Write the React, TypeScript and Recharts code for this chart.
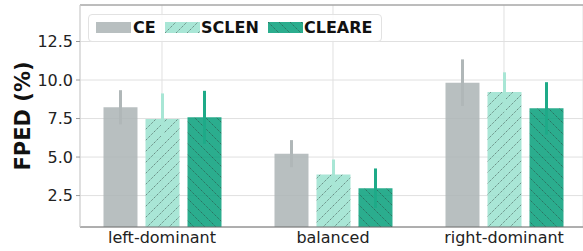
import React from "react";
import { Bar, BarChart, CartesianGrid, ErrorBar, ReferenceLine, XAxis, YAxis } from "recharts";

const categories = ["left-dominant", "balanced", "right-dominant"];
const ceValues = [8.23, 5.22, 9.83];
const ceErrors = [1.11, 0.88, 1.51];
const sclenValues = [7.47, 3.86, 9.22];
const sclenErrors = [1.66, 0.98, 1.28];
const cleareValues = [7.58, 2.98, 8.16];
const cleareErrors = [1.72, 1.28, 1.7];
const yTicks = [2.5, 5, 7.5, 10, 12.5];

const font = "'DejaVu Sans', sans-serif";

const rows = categories.map((name, i) => ({
  x: i,
  name,
  ce: ceValues[i],
  ceErr: ceErrors[i],
  sclen: sclenValues[i],
  sclenErr: sclenErrors[i],
  cleare: cleareValues[i],
  cleareErr: cleareErrors[i],
}));

// base colours drawn at 0.85 opacity so the grid shows through like the original
const colors = {
  ce: "#acb4b5",
  ceErr: "#b0b7b8",
  sclen: "#9ae2cf",
  sclenErr: "#a8e6d5",
  cleare: "#069f7a",
  cleareErr: "#1eaa88",
};
const barAlpha = 0.85;

function HatchPattern({ id, fill, back }: { id: string; fill: string; back?: boolean }) {
  const d = back
    ? "M-1,10 l2,2 M0,0 l11,11 M10,-1 l2,2"
    : "M-1,1 l2,-2 M0,11 l11,-11 M10,12 l2,-2";
  return (
    <pattern id={id} patternUnits="userSpaceOnUse" width={11} height={11}>
      <rect width={11} height={11} fill={fill} fillOpacity={barAlpha} />
      <path d={d} stroke="#2c3a38" strokeWidth={0.8} strokeDasharray="1.2 1" strokeOpacity={0.75} />
    </pattern>
  );
}

function Swatch({ kind }: { kind: "ce" | "sclen" | "cleare" }) {
  const id = `leg-${kind}`;
  return (
    <svg width={35} height={11} style={{ display: "block" }}>
      <defs>
        {kind === "sclen" && <HatchPattern id={id} fill={colors.sclen} />}
        {kind === "cleare" && <HatchPattern id={id} fill={colors.cleare} back />}
      </defs>
      <rect
        width={35}
        height={11}
        fill={kind === "ce" ? colors.ce : `url(#${id})`}
        fillOpacity={kind === "ce" ? barAlpha : 1}
      />
    </svg>
  );
}

function LegendBox() {
  const items: { kind: "ce" | "sclen" | "cleare"; label: string; sw: number; tx: number }[] = [
    { kind: "ce", label: "CE", sw: 7, tx: 44 },
    { kind: "sclen", label: "SCLEN", sw: 76, tx: 112 },
    { kind: "cleare", label: "CLEARE", sw: 179, tx: 215 },
  ];
  return (
    <div
      style={{
        position: "absolute",
        left: 88,
        top: 14,
        width: 292,
        height: 26,
        border: "1px solid #e2e2e2",
        borderRadius: 4,
        background: "rgba(255,255,255,0.85)",
        fontFamily: font,
      }}
    >
      {items.map((it) => (
        <React.Fragment key={it.kind}>
          <div style={{ position: "absolute", left: it.sw, top: 7 }}>
            <Swatch kind={it.kind} />
          </div>
          <div
            style={{
              position: "absolute",
              left: it.tx,
              top: 5,
              lineHeight: "16px",
              fontSize: 16,
              fontWeight: "bold",
              color: "#111",
              whiteSpace: "nowrap",
            }}
          >
            {it.label}
          </div>
        </React.Fragment>
      ))}
    </div>
  );
}

export default function App() {
  return (
    <div
      style={{
        position: "absolute",
        left: 0,
        top: 0,
        width: 583,
        height: 251,
        overflow: "hidden",
        background: "#fff",
      }}
    >
      <BarChart
        width={583}
        height={251}
        data={rows}
        margin={{ top: 5, right: 0, bottom: 0, left: 0 }}
        barSize={34}
        barGap={8}
      >
        <defs>
          <HatchPattern id="hatch-sclen" fill={colors.sclen} />
          <HatchPattern id="hatch-cleare" fill={colors.cleare} back />
        </defs>
        <CartesianGrid stroke="#e0e0e0" strokeWidth={1} />
        <XAxis
          dataKey="x"
          type="number"
          domain={[-0.4795, 2.462]}
          allowDataOverflow
          ticks={[0, 1, 2]}
          interval={0}
          tickFormatter={(v: number) => categories[v]}
          height={24}
          tickLine={false}
          tickSize={0}
          tickMargin={5}
          axisLine={{ stroke: "#6e6e6e", strokeWidth: 1 }}
          tick={{ fontFamily: font, fontSize: 16, fill: "#222" }}
        />
        <YAxis
          type="number"
          domain={[0.46, 14.87]}
          allowDataOverflow
          ticks={yTicks}
          interval={0}
          width={80}
          tickFormatter={(v: number) => v.toFixed(1)}
          tickSize={4}
          tickMargin={3}
          tickLine={{ stroke: "#9a9a9a" }}
          axisLine={{ stroke: "#cfcfcf", strokeWidth: 1 }}
          tick={{ fontFamily: font, fontSize: 16, fill: "#222" }}
          label={{
            value: "FPED (%)",
            angle: -90,
            position: "center",
            dx: -17,
            style: { fontFamily: font, fontSize: 21, fontWeight: "bold", fill: "#111", textAnchor: "middle" },
          }}
        />
        <ReferenceLine y={14.87} stroke="#8a8a8a" strokeWidth={1} />
        <Bar dataKey="ce" fill={colors.ce} fillOpacity={barAlpha} isAnimationActive={false}>
          <ErrorBar dataKey="ceErr" width={0} strokeWidth={3} stroke={colors.ceErr} />
        </Bar>
        <Bar dataKey="sclen" fill="url(#hatch-sclen)" isAnimationActive={false}>
          <ErrorBar dataKey="sclenErr" width={0} strokeWidth={3} stroke={colors.sclenErr} />
        </Bar>
        <Bar dataKey="cleare" fill="url(#hatch-cleare)" isAnimationActive={false}>
          <ErrorBar dataKey="cleareErr" width={0} strokeWidth={3} stroke={colors.cleareErr} />
        </Bar>
      </BarChart>
      <LegendBox />
    </div>
  );
}
